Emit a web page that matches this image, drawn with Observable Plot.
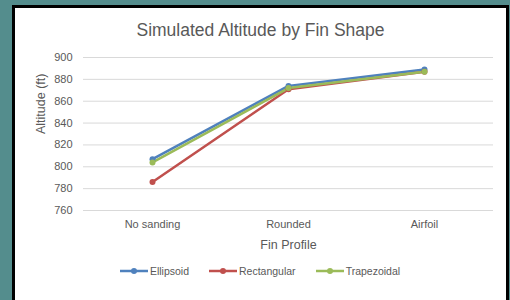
<!DOCTYPE html>
<html>
<head>
<meta charset="utf-8">
<script src="https://cdn.jsdelivr.net/npm/d3@7"></script>
<script src="https://cdn.jsdelivr.net/npm/@observablehq/plot@0.6"></script>
<style>
  html, body { margin: 0; padding: 0; }
  body { width: 510px; height: 300px; overflow: hidden; background: #548d8d; position: relative; font-family: "Liberation Sans", Arial, sans-serif; }
  #panel { position: absolute; left: 12px; top: 5px; width: 491px; height: 300px; border: 3px solid #000; border-bottom: none; background: #fff; }
  #title { position: absolute; left: 15px; top: 20px; width: 491px; text-align: center; font-size: 17.5px; color: #595959; }
  #chart { position: absolute; left: 15px; top: 40px; }
  #legend { position: absolute; left: 12px; top: 265px; width: 496px; display: flex; justify-content: center; gap: 20px; font-size: 10.5px; color: #595959; }
  .item { display: flex; align-items: center; gap: 2px; }
</style>
</head>
<body>
<div id="panel"></div>
<div id="title">Simulated Altitude by Fin Shape</div>
<div id="chart"></div>
<div id="legend"></div>
<script>
const categories = ["No sanding", "Rounded", "Airfoil"];
const seriesNames = ["Ellipsoid", "Rectangular", "Trapezoidal"];
const ellipsoid = [807, 874, 889];
const rectangular = [786, 871, 887];
const trapezoidal = [804, 872, 887];
const yTicks = [760, 780, 800, 820, 840, 860, 880, 900];
const colors = ["#4F81BD", "#C0504D", "#9BBB59"];

const values = [ellipsoid, rectangular, trapezoidal];
const data = [];
seriesNames.forEach((s, i) => categories.forEach((c, j) => data.push({series: s, cat: c, value: values[i][j]})));

const plot = Plot.plot({
  width: 490,
  height: 230,
  marginLeft: 68,
  marginRight: 12,
  marginTop: 17,
  marginBottom: 60,
  style: {background: "transparent", fontFamily: "Liberation Sans, Arial, sans-serif", fontSize: "11px", color: "#595959"},
  x: {type: "point", domain: categories, padding: 0.5},
  y: {domain: [760, 900]},
  color: {domain: seriesNames, range: colors},
  marks: [
    Plot.ruleY(yTicks, {stroke: "#d9d9d9", strokeWidth: 1}),
    Plot.axisY({ticks: yTicks, tickSize: 0, tickPadding: 11, label: null, fill: "#595959"}),
    Plot.axisX({tickSize: 0, tickPadding: 10, label: null, fill: "#595959"}),
    Plot.line(data, {x: "cat", y: "value", z: "series", stroke: "series", strokeWidth: 2.5}),
    Plot.dot(data, {x: "cat", y: "value", fill: "series", r: 3}),
    Plot.text(["Altitude (ft)"], {frameAnchor: "left", rotate: -90, dx: -43, fill: "#595959", fontSize: 12.5}),
    Plot.text(["Fin Profile"], {frameAnchor: "bottom", dy: 38, fill: "#595959", fontSize: 12.5})
  ]
});
document.getElementById("chart").appendChild(plot);

const legend = document.getElementById("legend");
seriesNames.forEach((s, i) => {
  const item = document.createElement("div");
  item.className = "item";
  item.innerHTML = `<svg width="28" height="8"><line x1="0" y1="4" x2="28" y2="4" stroke="${colors[i]}" stroke-width="2.5"/><circle cx="14" cy="4" r="3" fill="${colors[i]}"/></svg><span>${s}</span>`;
  legend.appendChild(item);
});
</script>
</body>
</html>
